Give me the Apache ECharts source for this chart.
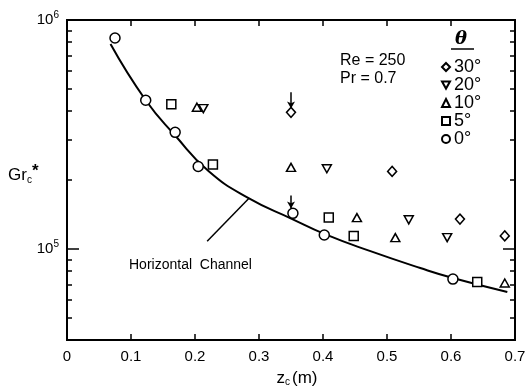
<!DOCTYPE html>
<html>
<head>
<meta charset="utf-8">
<script src="https://cdn.jsdelivr.net/npm/echarts@6/dist/echarts.min.js"></script>
<style>
    html, body { margin: 0; padding: 0; background: #fff; }
    #chart { width: 526px; height: 388px; }
</style>
</head>
<body>
<div id="chart"></div>
<script>
// tick values
var yMajorTicks = [1e5, 1e6];
var yMinorTicks = [4e4, 5e4, 6e4, 7e4, 8e4, 9e4, 2e5, 3e5, 4e5, 5e5, 6e5, 7e5, 8e5, 9e5];

// horizontal channel curve
var curveZ = [0.068, 0.123, 0.169, 0.221, 0.283, 0.352, 0.403, 0.473, 0.552, 0.603, 0.688];
var curveGr = [7.85e5, 4.46e5, 3.13e5, 2.19e5, 1.67e5, 1.35e5, 1.16e5, 9.8e4, 8.25e4, 7.46e4, 6.48e4];

// measured points, one pair of arrays per inclination
var theta0Z = [0.075, 0.123, 0.169, 0.205, 0.353, 0.402, 0.603];
var theta0Gr = [8.34e5, 4.46e5, 3.23e5, 2.29e5, 1.43e5, 1.15e5, 7.38e4];
var theta5Z = [0.163, 0.228, 0.409, 0.448, 0.641];
var theta5Gr = [4.28e5, 2.34e5, 1.37e5, 1.14e5, 7.16e4];
var theta10Z = [0.203, 0.350, 0.453, 0.513, 0.684];
var theta10Gr = [4.16e5, 2.27e5, 1.37e5, 1.12e5, 7.1e4];
var theta20Z = [0.213, 0.406, 0.534, 0.594];
var theta20Gr = [4.1e5, 2.24e5, 1.34e5, 1.12e5];
var theta30Z = [0.350, 0.508, 0.614, 0.684];
var theta30Gr = [3.95e5, 2.18e5, 1.35e5, 1.14e5];

// arrows above the points at z = 0.35, and leader of the curve label
var arrowZ = 0.35;
var arrowTop = [4.83e5, 1.71e5];
var arrowEnd = [4.11e5, 1.5e5];
var leaderZ = [0.219, 0.284];
var leaderGr = [1.08e5, 1.66e5];

var FONT = 'Liberation Sans';

function pairs(xs, ys) {
    var out = [];
    for (var i = 0; i < xs.length; i++) {
        out.push([xs[i], ys[i]]);
    }
    return out;
}

function pointSeries(name, xs, ys, symbol, size) {
    return {
        name: name,
        type: 'scatter',
        data: pairs(xs, ys),
        symbol: symbol,
        symbolSize: size,
        itemStyle: { color: '#fff', borderColor: '#000', borderWidth: 1.5, opacity: 1 },
        emphasis: { disabled: true },
        z: 5
    };
}

function xAxisDef(pos, showLabel) {
    return {
        type: 'value',
        position: pos,
        min: 0,
        max: 0.7,
        interval: 0.1,
        name: showLabel ? '{z|z}{c|c}{z|(m)}' : '',
        nameLocation: 'middle',
        nameGap: 30,
        nameTextStyle: {
            padding: [0, 0, 0, 12],
            rich: {
                z: { fontFamily: FONT, fontSize: 17, color: '#000' },
                c: { fontFamily: FONT, fontSize: 10, color: '#000', padding: [7, 2, 0, 0] }
            }
        },
        axisLine: { show: true, onZero: false, lineStyle: { color: '#000', width: 2 } },
        axisTick: { show: true, inside: true, length: 6, lineStyle: { color: '#000', width: 1.5 } },
        axisLabel: {
            show: showLabel,
            margin: 9,
            fontFamily: FONT,
            fontSize: 15,
            color: '#000',
            showMinLabel: true,
            showMaxLabel: true
        },
        splitLine: { show: false }
    };
}

function yAxisDef(pos, ticks, len, showLabel) {
    return {
        type: 'log',
        logBase: 10,
        position: pos,
        min: 4e4,
        max: 1e6,
        axisLine: { show: true, onZero: false, lineStyle: { color: '#000', width: 2 } },
        axisTick: {
            show: true, inside: true, length: len, customValues: ticks,
            lineStyle: { color: '#000', width: 1.5 }
        },
        axisLabel: {
            show: showLabel,
            customValues: yMajorTicks,
            margin: 8,
            formatter: function (v) {
                return '{b|10}{s|' + Math.round(Math.log(v) / Math.LN10) + '}';
            },
            rich: {
                b: { fontFamily: FONT, fontSize: 15, color: '#000' },
                s: { fontFamily: FONT, fontSize: 10, color: '#000', padding: [0, 0, 10, 0] }
            }
        },
        splitLine: { show: false },
        minorTick: { show: false }
    };
}

var chart = echarts.init(document.getElementById('chart'), null, { renderer: 'canvas' });

var series = [
    {
        name: 'curve',
        type: 'line',
        data: pairs(curveZ, curveGr),
        smooth: 0.5,
        showSymbol: false,
        symbol: 'none',
        lineStyle: { color: '#000', width: 2 },
        emphasis: { disabled: true },
        markLine: {
            silent: true,
            symbol: ['none', 'none'],
            label: { show: false },
            lineStyle: { color: '#000', width: 1.5, type: 'solid' },
            data: [[{ coord: [leaderZ[0], leaderGr[0]] }, { coord: [leaderZ[1], leaderGr[1]] }]]
        },
        z: 3
    },
    pointSeries('30°', theta30Z, theta30Gr, 'diamond', [9, 10]),
    pointSeries('20°', theta20Z, theta20Gr, 'path://M0,0L10,0L5,9Z', [9, 8]),
    pointSeries('10°', theta10Z, theta10Gr, 'triangle', [9, 8]),
    pointSeries('5°', theta5Z, theta5Gr, 'rect', 9),
    pointSeries('0°', theta0Z, theta0Gr, 'circle', 10)
];

// arrows drawn as marklines on the 30 deg series
series[1].markLine = {
    silent: true,
    symbol: ['none', 'arrow'],
    symbolSize: [6, 7],
    label: { show: false },
    lineStyle: { color: '#000', width: 1.5, type: 'solid' },
    data: [
        [{ coord: [arrowZ, arrowTop[0]] }, { coord: [arrowZ, arrowEnd[0]] }],
        [{ coord: [arrowZ, arrowTop[1]] }, { coord: [arrowZ, arrowEnd[1]] }]
    ]
};

var option = {
    animation: false,
    backgroundColor: '#fff',
    grid: { left: 67, right: 11, top: 20, bottom: 48, containLabel: false, outerBoundsMode: 'none' },
    xAxis: [xAxisDef('bottom', true), xAxisDef('top', false)],
    yAxis: [
        yAxisDef('left', yMajorTicks, 12, true),
        yAxisDef('left', yMinorTicks, 5, false),
        yAxisDef('right', yMajorTicks, 12, false),
        yAxisDef('right', yMinorTicks, 5, false)
    ],
    legend: {
        data: ['30°', '20°', '10°', '5°', '0°'],
        orient: 'vertical',
        left: 436,
        top: 53,
        itemWidth: 8,
        itemHeight: 8,
        itemGap: 0,
        selectedMode: false,
        textStyle: { fontFamily: FONT, fontSize: 18, color: '#000', lineHeight: 17, padding: [0, 0, 0, -1] }
    },
    graphic: [
        { type: 'text', left: 455, top: 30, style: { text: 'θ', font: 'italic bold 18px "DejaVu Serif"', fill: '#000' } },
        { type: 'line', shape: { x1: 451, y1: 49, x2: 474, y2: 49 }, style: { stroke: '#000', lineWidth: 1.5 } },
        { type: 'text', left: 340, top: 53, style: { text: 'Re = 250', font: '16px "Liberation Sans"', fill: '#000' } },
        { type: 'text', left: 340, top: 71, style: { text: 'Pr = 0.7', font: '16px "Liberation Sans"', fill: '#000' } },
        { type: 'text', left: 129, top: 258, style: { text: 'Horizontal  Channel', font: '14px "Liberation Sans"', fill: '#000' } },
        {
            type: 'text', left: 8, top: 163,
            style: {
                text: '{g|Gr}{c|c}{a|*}',
                rich: {
                    g: { fontFamily: FONT, fontSize: 17, fill: '#000' },
                    c: { fontFamily: FONT, fontSize: 10, fill: '#000', padding: [10, 0, 0, 0] },
                    a: { fontFamily: FONT, fontSize: 17, fontWeight: 'bold', fill: '#000', padding: [0, 0, 8, 0] }
                }
            }
        }
    ],
    series: series
};

chart.setOption(option);
</script>
</body>
</html>
